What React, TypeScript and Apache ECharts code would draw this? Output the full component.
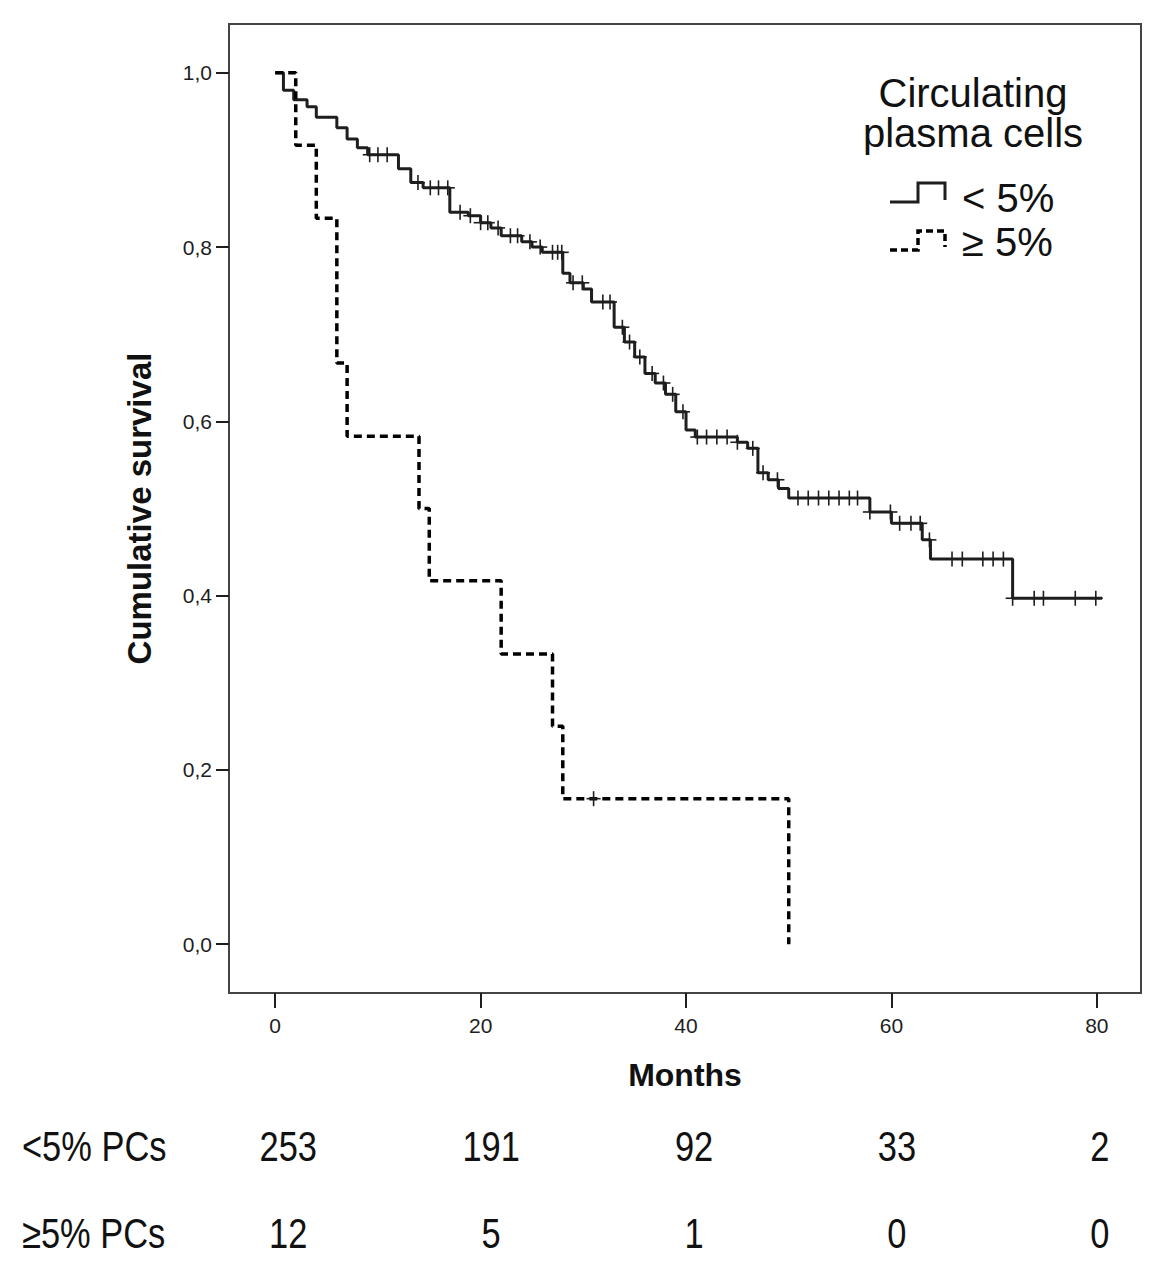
import { useEffect, useRef } from "react";
import * as echarts from "echarts";

// Kaplan-Meier steps: [month, survival after the drop]
const lowSteps: [number, number][] = [
  [0, 1.0], [0.8, 0.98], [1.8, 0.969], [3.1, 0.961], [4.0, 0.949], [6.0, 0.937],
  [7.0, 0.924], [8.0, 0.914], [9.0, 0.906], [12.0, 0.89], [13.2, 0.874], [14.4, 0.868],
  [17.0, 0.84], [18.8, 0.836], [20.0, 0.828], [21.0, 0.822], [22.0, 0.813], [24.0, 0.806],
  [25.0, 0.8], [26.0, 0.794], [28.0, 0.77], [28.7, 0.759], [30.0, 0.752], [30.8, 0.737],
  [33.0, 0.708], [34.0, 0.691], [35.0, 0.674], [36.0, 0.655], [37.0, 0.644], [38.0, 0.631],
  [39.0, 0.611], [40.0, 0.59], [40.9, 0.582], [45.0, 0.576], [46.0, 0.569], [47.0, 0.541],
  [48.0, 0.533], [49.0, 0.523], [50.0, 0.512], [57.9, 0.496], [60.0, 0.483], [63.0, 0.464],
  [63.8, 0.442], [71.8, 0.397],
];
const lowLastMonth = 80.5;
const lowCensored = [
  9.2, 10.0, 10.9, 13.9, 15.1, 15.9, 16.8, 18.0, 19.0, 20.0, 20.7, 21.7, 22.9, 23.6, 24.8,
  25.8, 27.0, 27.5, 27.9, 29.0, 29.9, 31.9, 32.6, 33.8, 34.5, 35.5, 36.7, 37.8, 38.7, 39.7,
  41.1, 42.0, 43.0, 44.0, 45.0, 46.5, 47.5, 48.9, 50.9, 51.9, 52.9, 53.9, 54.9, 55.9, 56.7,
  57.9, 59.9, 60.8, 61.9, 62.8, 63.7, 65.9, 66.9, 68.9, 69.9, 70.9, 71.8, 73.9, 74.8, 77.9, 79.9,
];

const highSteps: [number, number][] = [
  [0, 1.0], [2.0, 0.917], [4.0, 0.833], [6.0, 0.667], [7.0, 0.583], [14.0, 0.5],
  [15.0, 0.417], [22.0, 0.333], [27.0, 0.25], [28.0, 0.167], [50.0, 0.0],
];
const highCensored = [31.0];

const xTicks = [0, 20, 40, 60, 80];
const yTicks = [0, 0.2, 0.4, 0.6, 0.8, 1.0];

// numbers at risk
const riskGroups = ["<5% PCs", "≥5% PCs"];
const riskMonths = [0, 20, 40, 60, 80];
const riskLow = [253, 191, 92, 33, 2];
const riskHigh = [12, 5, 1, 0, 0];
const riskRowsY = [1146, 1233];

const FONT = "'Liberation Sans', Arial, sans-serif";
const INK = "#1e1e1e";

function levelAt(steps: [number, number][], t: number) {
  let level = steps[0][1];
  for (const [month, value] of steps) if (month <= t + 1e-9) level = value;
  return level;
}

function censorSeries(steps: [number, number][], times: number[]) {
  return {
    type: "custom",
    z: 4,
    data: times.map((t) => [t, levelAt(steps, t)]),
    renderItem: (_params: unknown, api: any) => {
      const [x, y] = api.coord([api.value(0), api.value(1)]);
      const style = { stroke: INK, lineWidth: 1.6 };
      return {
        type: "group",
        children: [
          { type: "line", shape: { x1: x, y1: y - 7.5, x2: x, y2: y + 7.5 }, style },
          { type: "line", shape: { x1: x - 7, y1: y, x2: x + 7, y2: y }, style },
        ],
      };
    },
  };
}

// narrow, tall text like the table under the plot
function narrowText(text: string, x: number, y: number, align: "left" | "center") {
  return {
    type: "text",
    x,
    y,
    scaleX: 0.82,
    style: { text, font: `42px ${FONT}`, fill: "#111", textAlign: align, textVerticalAlign: "middle" },
  };
}

function legendText(text: string, x: number, y: number, align: "left" | "center") {
  return {
    type: "text",
    x,
    y,
    style: { text, font: `40px ${FONT}`, fill: "#111", textAlign: align, textVerticalAlign: "middle" },
  };
}

function buildOption(): echarts.EChartsOption {
  const lowLine = [...lowSteps, [lowLastMonth, lowSteps[lowSteps.length - 1][1]]];
  return {
    animation: false,
    backgroundColor: "#ffffff",
    grid: { left: 229, top: 24, width: 912, height: 969, show: true, borderColor: "#444", borderWidth: 2 },
    xAxis: {
      type: "value",
      min: -4.5,
      max: 84.3,
      axisLine: { show: false, onZero: false },
      splitLine: { show: false },
      axisTick: { show: true, length: 15, customValues: xTicks, lineStyle: { color: INK, width: 2 } },
      axisLabel: { customValues: xTicks, margin: 22, fontSize: 21, fontFamily: FONT, color: INK },
      name: "Months",
      nameLocation: "middle",
      nameGap: 66,
      nameTextStyle: { fontSize: 32, fontWeight: "bold", fontFamily: FONT, color: "#111" },
    },
    yAxis: {
      type: "value",
      min: -0.056,
      max: 1.056,
      axisLine: { show: false, onZero: false },
      splitLine: { show: false },
      axisTick: { show: true, length: 13, customValues: yTicks, lineStyle: { color: INK, width: 2 } },
      axisLabel: {
        customValues: yTicks,
        margin: 17,
        fontSize: 21,
        fontFamily: FONT,
        color: INK,
        formatter: (v: number) => v.toFixed(1).replace(".", ","),
      },
      name: "Cumulative survival",
      nameLocation: "middle",
      nameGap: 73,
      nameTextStyle: { fontSize: 33, fontWeight: "bold", fontFamily: FONT, color: "#111" },
    },
    series: [
      {
        name: "< 5%",
        type: "line",
        step: "end",
        symbol: "none",
        z: 3,
        data: lowLine,
        lineStyle: { color: INK, width: 3 },
      },
      {
        name: "≥ 5%",
        type: "line",
        step: "end",
        symbol: "none",
        z: 3,
        data: highSteps,
        lineStyle: { color: "#000", width: 3.5, type: [8, 5] },
      },
      censorSeries(lowSteps, lowCensored),
      censorSeries(highSteps, highCensored),
    ] as any,
  };
}

function legendGraphics() {
  return [
    legendText("Circulating", 973, 93, "center"),
    legendText("plasma cells", 973, 133, "center"),
    {
      type: "polyline",
      shape: { points: [[890, 202], [918, 202], [918, 183], [945, 183], [945, 200]] },
      style: { stroke: INK, lineWidth: 3, fill: "none" },
    },
    {
      type: "polyline",
      shape: { points: [[890, 250], [918, 250], [918, 231], [945, 231], [945, 247]] },
      style: { stroke: "#000", lineWidth: 3.5, fill: "none", lineDash: [7, 4] },
    },
    legendText("< 5%", 962, 198, "left"),
    legendText("≥ 5%", 962, 242, "left"),
  ];
}

export default function App() {
  const nodeRef = useRef<HTMLDivElement | null>(null);

  useEffect(() => {
    document.body.style.margin = "0";
    if (!nodeRef.current) return;
    const chart = echarts.init(nodeRef.current, undefined, { renderer: "svg" });
    chart.setOption(buildOption());

    // number-at-risk table, placed under the month ticks (the columns sit a little right of them)
    const table: any[] = [];
    [riskLow, riskHigh].forEach((row, r) => {
      table.push(narrowText(riskGroups[r], 22, riskRowsY[r], "left"));
      riskMonths.forEach((m, i) => {
        const x = chart.convertToPixel({ xAxisIndex: 0 }, m) as number;
        table.push(narrowText(String(row[i]), x + 13 - i * 2.5, riskRowsY[r], "center"));
      });
    });
    chart.setOption({ graphic: [...legendGraphics(), ...table] });

    return () => chart.dispose();
  }, []);

  return <div ref={nodeRef} style={{ width: 1172, height: 1280 }} />;
}
